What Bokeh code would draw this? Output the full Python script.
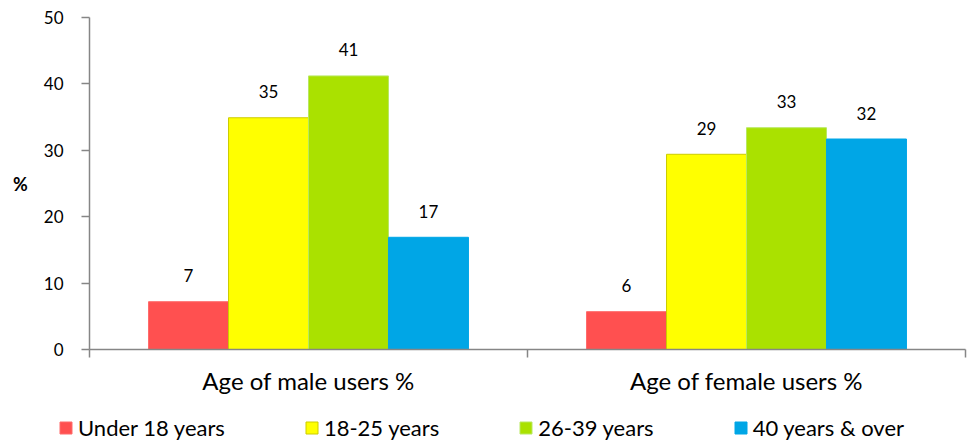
from bokeh.plotting import figure
from bokeh.layouts import column, row
from bokeh.models import ColumnDataSource, FixedTicker, Legend, LegendItem, Range1d
from bokeh.core.properties import value
from bokeh.embed import file_html
from bokeh.resources import INLINE

groups = ["Age of male users %", "Age of female users %"]
series = ["Under 18 years", "18-25 years", "26-39 years", "40 years & over"]
male = [7.2, 34.9, 41.2, 16.9]
female = [5.7, 29.4, 33.4, 31.7]
colors = ["#FF5050", "#FFFF00", "#AAE100", "#00A6E6"]
edges = ["#FF6A6A", "#CCCC00", "#B8E860", "#00A6E6"]
y_ticks = [0, 10, 20, 30, 40, 50]

FONT = "Lato"

p = figure(width=973, height=410, output_backend="svg", toolbar_location=None,
           x_range=Range1d(0, 2), y_range=Range1d(0, 50),
           min_border_left=89, min_border_right=8, min_border_top=17, min_border_bottom=61)
p.outline_line_color = None
p.xgrid.visible = False
p.ygrid.visible = False

bw = 0.1826
centers = [0.5, 1.5]
for i, name in enumerate(series):
    xs = [c + (i - 1.5) * bw for c in centers]
    vals = [male[i], female[i]]
    src = ColumnDataSource(dict(x=xs, top=vals, lab=["%.0f" % v for v in vals]))
    p.vbar(x="x", top="top", width=bw, source=src, fill_color=colors[i],
           line_color=edges[i], line_width=1)
    p.text(x="x", y="top", text="lab", source=src, text_align="center",
           text_baseline="alphabetic", y_offset=-26, text_font=value(FONT),
           text_font_size="17px", text_color="#000000")

# y axis
ya = p.yaxis[0]
ya.ticker = FixedTicker(ticks=y_ticks)
ya.axis_line_color = "#868686"
ya.axis_line_width = 1.5
ya.major_tick_line_color = "#868686"
ya.major_tick_line_width = 1.5
ya.major_tick_out = 8
ya.major_tick_in = 0
ya.minor_tick_line_color = None
ya.major_label_standoff = 18
ya.major_label_text_font = FONT
ya.major_label_text_font_size = "17px"
ya.major_label_text_color = "#000000"
ya.axis_label = "%"
ya.axis_label_orientation = "horizontal"
ya.axis_label_text_font = FONT
ya.axis_label_text_font_style = "bold"
ya.axis_label_text_font_size = "18px"
ya.axis_label_text_color = "#000000"
ya.axis_label_standoff = 13

# x axis
xa = p.xaxis[0]
xa.ticker = FixedTicker(ticks=centers, minor_ticks=[0, 1, 2])
xa.major_label_overrides = {0.5: groups[0], 1.5: groups[1]}
xa.axis_line_color = "#868686"
xa.axis_line_width = 1.5
xa.major_tick_line_color = None
xa.major_tick_out = 0
xa.major_tick_in = 0
xa.minor_tick_line_color = "#868686"
xa.minor_tick_line_width = 1.5
xa.minor_tick_out = 8
xa.minor_tick_in = 0
xa.major_label_standoff = 8
xa.major_label_text_font = FONT
xa.major_label_text_font_size = "24px"
xa.major_label_text_color = "#000000"

# legend strip
lg = figure(width=973, height=33, output_backend="svg", toolbar_location=None,
            x_range=Range1d(0, 1), y_range=Range1d(0, 1),
            x_axis_location=None, y_axis_location=None,
            min_border_left=0, min_border_right=0, min_border_top=0, min_border_bottom=0)
lg.outline_line_color = None
lg.xgrid.visible = False
lg.ygrid.visible = False
items = []
for i, name in enumerate(series):
    r = lg.vbar(x=[0.5], top=[-5], bottom=[-6], width=0.1, fill_color=colors[i],
                line_color=edges[i], line_width=1)
    items.append(LegendItem(label=name, renderers=[r]))
legend = Legend(items=items, orientation="horizontal", location=(58, 2),
                glyph_width=15, glyph_height=15, label_standoff=5, spacing=79,
                label_text_font=FONT, label_text_font_size="22px",
                label_text_color="#000000", padding=0, margin=0,
                border_line_alpha=0, background_fill_alpha=0)
lg.add_layout(legend, "center")

open("out.html", "w").write(file_html(column(p, row(lg, spacing=0), spacing=0), INLINE))
